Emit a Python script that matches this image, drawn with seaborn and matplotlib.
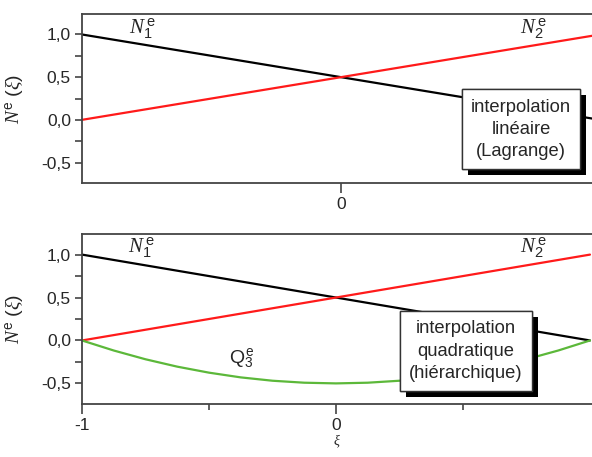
import matplotlib
matplotlib.use('Agg')
import matplotlib.pyplot as plt
import matplotlib.patheffects as pe
from matplotlib.ticker import FixedLocator
import seaborn as sns

# valeurs
xi_lin = [-1.0, 1.0]
n1_vals = [1.0, 0.0]
n2_vals = [0.0, 1.0]

xi_quad = [-1.0, -0.875, -0.75, -0.625, -0.5, -0.375, -0.25, -0.125, 0.0,
           0.125, 0.25, 0.375, 0.5, 0.625, 0.75, 0.875, 1.0]
q3_vals = [0.0, -0.117, -0.219, -0.305, -0.375, -0.43, -0.469, -0.492, -0.5,
           -0.492, -0.469, -0.43, -0.375, -0.305, -0.219, -0.117, 0.0]

ytick_vals = [-0.5, 0.0, 0.5, 1.0]
ytick_labels = ['-0,5', '0,0', '0,5', '1,0']

sns.set_style('ticks')
plt.rcParams['font.family'] = ['Liberation Sans', 'DejaVu Sans']
plt.rcParams['mathtext.fontset'] = 'custom'
plt.rcParams['mathtext.it'] = 'Liberation Serif:italic'
plt.rcParams['mathtext.rm'] = 'Liberation Sans'
plt.rcParams['mathtext.cal'] = 'Liberation Serif:italic'

spine_col = '#444444'
green = '#5cb83a'

fig = plt.figure(figsize=(5.92, 4.57), dpi=100)
ax1 = fig.add_axes([82 / 592, 1 - 183 / 457, 510 / 592, 169 / 457])
ax2 = fig.add_axes([82 / 592, 1 - 404 / 457, 510 / 592, 170 / 457])


def style_axis(ax):
    for side in ['left', 'bottom', 'top']:
        ax.spines[side].set_color(spine_col)
        ax.spines[side].set_linewidth(1.3)
    ax.spines['right'].set_visible(False)
    ax.set_ylim(-0.74, 1.24)
    ax.set_yticks(ytick_vals)
    ax.set_yticklabels(ytick_labels, fontsize=12.5)
    ax.yaxis.set_minor_locator(FixedLocator([-0.75, -0.25, 0.25, 0.75]))
    ax.tick_params(axis='y', which='both', direction='out', length=5,
                   width=1.2, color=spine_col, pad=3)
    ax.tick_params(axis='x', which='major', direction='out', length=7,
                   width=1.2, color=spine_col, labelsize=12.5, pad=3)
    ax.tick_params(axis='x', which='minor', direction='out', length=4,
                   width=1.2, color=spine_col)
    ax.set_ylabel(r'$N^{\mathrm{e}}$ ($\xi$)', fontsize=14)
    ax.yaxis.set_label_coords(-0.11, 0.5)


def boxed(ax, x, y, txt):
    t = ax.text(x, y, txt, fontsize=13.2, ha='center', va='center',
                linespacing=1.4, zorder=5,
                bbox=dict(boxstyle='square,pad=0.5', fc='white', ec='#333333', lw=1))
    t.get_bbox_patch().set_path_effects(
        [pe.withSimplePatchShadow(offset=(4.3, -4.3), shadow_rgbFace='black', alpha=1.0),
         pe.Normal()])


# panneau du haut : interpolation linéaire
sns.lineplot(x=xi_lin, y=n1_vals, ax=ax1, color='black', linewidth=1.6)
sns.lineplot(x=xi_lin, y=n2_vals, ax=ax1, color='#ff1a1a', linewidth=1.6)
style_axis(ax1)
ax1.set_xlim(-1, 0.969)
ax1.set_xticks([0])
ax1.set_xticklabels(['0'])
ax1.text(-0.82, 1.01, r'$N_{\mathrm{1}}^{\,\mathrm{e}}$', fontsize=15, va='baseline')
ax1.text(0.69, 1.01, r'$N_{\mathrm{2}}^{\,\mathrm{e}}$', fontsize=15, va='baseline')
boxed(ax1, 0.695, -0.11, 'interpolation\nlinéaire\n(Lagrange)')

# panneau du bas : interpolation quadratique
sns.lineplot(x=xi_lin, y=n1_vals, ax=ax2, color='black', linewidth=1.6)
sns.lineplot(x=xi_lin, y=n2_vals, ax=ax2, color='#ff1a1a', linewidth=1.6)
sns.lineplot(x=xi_quad, y=q3_vals, ax=ax2, color=green, linewidth=1.6)
style_axis(ax2)
ax2.set_xlim(-1, 1.008)
ax2.set_xticks([-1, 0])
ax2.set_xticklabels(['-1', '0'])
ax2.xaxis.set_minor_locator(FixedLocator([-0.5, 0.5]))
ax2.text(-0.82, 1.02, r'$N_{\mathrm{1}}^{\,\mathrm{e}}$', fontsize=15, va='baseline')
ax2.text(0.724, 1.02, r'$N_{\mathrm{2}}^{\,\mathrm{e}}$', fontsize=15, va='baseline')
ax2.text(-0.42, -0.27, r'Q$_{\mathrm{3}}^{\,\mathrm{e}}$', fontsize=14, va='baseline')
boxed(ax2, 0.512, -0.123, 'interpolation\nquadratique\n(hiérarchique)')
ax2.set_xlabel(r'$\xi$', fontsize=10, labelpad=0)

fig.savefig('out.png', dpi=100)
